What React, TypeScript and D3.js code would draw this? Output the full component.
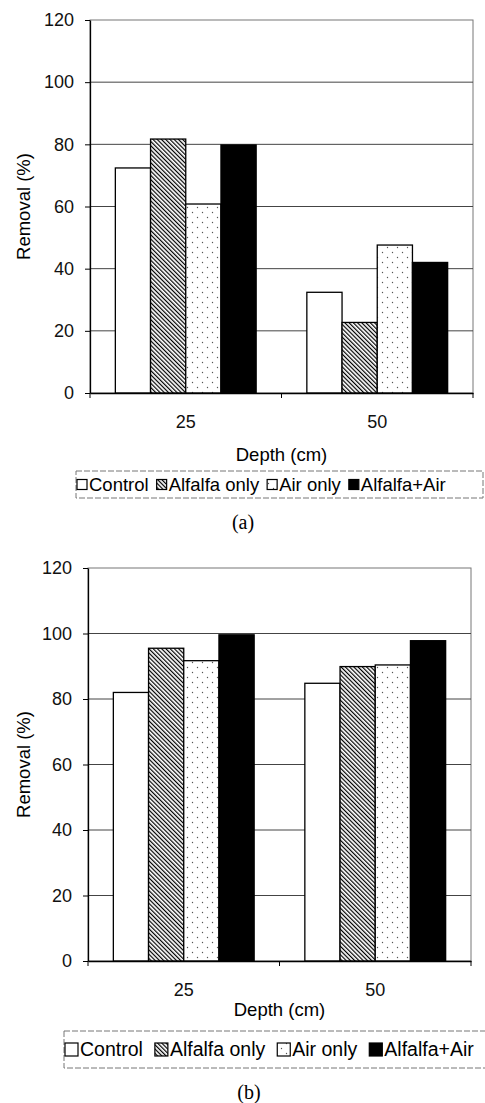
import React, { useEffect, useRef } from 'react';
import * as d3 from 'd3';

// categories and series
const depths = ['25', '50'];
const seriesNames = ['Control', 'Alfalfa only', 'Air only', 'Alfalfa+Air'];
const yTicks = [0, 20, 40, 60, 80, 100, 120];

// panel (a) values, % removal
const controlA = [72.4, 32.4];
const alfalfaA = [81.7, 22.7];
const airA = [60.8, 47.6];
const bothA = [79.8, 42.0];

// panel (b) values, % removal
const controlB = [82.0, 84.8];
const alfalfaB = [95.5, 89.9];
const airB = [91.7, 90.4];
const bothB = [99.6, 97.8];

const W = 485;
const H = 1103;
const FONT = "Arial, 'Liberation Sans', sans-serif";
const SERIF = "'Times New Roman', 'Liberation Serif', serif";
const TICK_FONT = 18;
const TITLE_FONT = 18.5;

const fills = ['#fff', 'url(#hatch)', 'url(#dots)', '#000'];

const panels = [
  {
    values: [controlA, alfalfaA, airA, bothA],
    left: 90, right: 473, top: 20, bottom: 393,
    xTitleY: 455,
    legend: { x: 76, y: 471, w: 407, h: 27, font: 18.5, marker: 10, gap: 8 },
    caption: '(a)', captionX: 243, captionY: 522,
  },
  {
    values: [controlB, alfalfaB, airB, bothB],
    left: 88, right: 471, top: 568, bottom: 961,
    xTitleY: 1010,
    legend: { x: 64, y: 1031, w: 430, h: 37, font: 19.5, marker: 13, gap: 12 },
    caption: '(b)', captionX: 249, captionY: 1092,
  },
];

const drawPanel = (svg, p) => {
  const y = d3.scaleLinear().domain([0, 120]).range([p.bottom, p.top]);
  const x0 = d3.scaleBand().domain(depths).range([p.left, p.right]);
  const x1 = d3.scaleBand()
    .domain(seriesNames)
    .range([0, x0.bandwidth()])
    .paddingOuter(0.72);

  const g = svg.append('g');

  // plot frame
  g.append('rect')
    .attr('x', p.left)
    .attr('y', p.top)
    .attr('width', p.right - p.left)
    .attr('height', p.bottom - p.top)
    .attr('fill', 'none')
    .attr('stroke', '#777')
    .attr('stroke-width', 1);

  // gridlines
  g.selectAll('.grid')
    .data(yTicks.filter((t) => t > 0 && t < 120))
    .join('line')
    .attr('class', 'grid')
    .attr('x1', p.left)
    .attr('x2', p.right)
    .attr('y1', (d) => y(d))
    .attr('y2', (d) => y(d))
    .attr('stroke', '#444')
    .attr('stroke-width', 1);

  // bars
  seriesNames.forEach((s, i) => {
    g.selectAll(null)
      .data(p.values[i])
      .join('rect')
      .attr('x', (d, j) => x0(depths[j]) + x1(s))
      .attr('y', (d) => y(d))
      .attr('width', x1.bandwidth())
      .attr('height', (d) => y(0) - y(d))
      .attr('fill', fills[i])
      .attr('stroke', '#000')
      .attr('stroke-width', 1.3);
  });

  // y axis
  const ya = g.append('g')
    .attr('transform', `translate(${p.left},0)`)
    .call(d3.axisLeft(y).tickValues(yTicks).tickSize(5).tickSizeOuter(0).tickPadding(11));
  ya.select('.domain').attr('stroke', '#000').attr('stroke-width', 1.3);
  ya.selectAll('text').attr('font-family', FONT).attr('font-size', TICK_FONT).attr('fill', '#111');

  // x axis: labels at band centres, ticks at band edges
  const xa = g.append('g')
    .attr('transform', `translate(0,${p.bottom})`)
    .call(d3.axisBottom(x0).tickSize(0).tickSizeOuter(0).tickPadding(22));
  xa.select('.domain').attr('stroke', '#000').attr('stroke-width', 1.3);
  xa.selectAll('text').attr('font-family', FONT).attr('font-size', TICK_FONT).attr('fill', '#111');
  g.selectAll('.xtick')
    .data([p.left, ...depths.slice(1).map((d) => x0(d)), p.right])
    .join('line')
    .attr('class', 'xtick')
    .attr('x1', (d) => d)
    .attr('x2', (d) => d)
    .attr('y1', p.bottom)
    .attr('y2', p.bottom + 5)
    .attr('stroke', '#000');

  // axis titles
  g.append('text')
    .attr('x', (p.left + p.right) / 2)
    .attr('y', p.xTitleY)
    .attr('dy', '0.35em')
    .attr('text-anchor', 'middle')
    .attr('font-family', FONT)
    .attr('font-size', TITLE_FONT)
    .text('Depth (cm)');

  g.append('text')
    .attr('transform', `translate(24,${(p.top + p.bottom) / 2}) rotate(-90)`)
    .attr('dy', '0.35em')
    .attr('text-anchor', 'middle')
    .attr('font-family', FONT)
    .attr('font-size', TITLE_FONT)
    .text('Removal (%)');

  // legend
  const L = p.legend;
  const lg = g.append('g').attr('transform', `translate(${L.x},${L.y})`);
  lg.append('rect')
    .attr('width', L.w)
    .attr('height', L.h)
    .attr('fill', '#fff')
    .attr('stroke', '#777')
    .attr('stroke-dasharray', '6 2');
  let cx = 1;
  seriesNames.forEach((s, i) => {
    lg.append('rect')
      .attr('x', cx)
      .attr('y', L.h / 2 - L.marker / 2)
      .attr('width', L.marker)
      .attr('height', L.marker)
      .attr('fill', fills[i])
      .attr('stroke', '#000')
      .attr('stroke-width', 1.2);
    const t = lg.append('text')
      .attr('x', cx + L.marker + 2)
      .attr('y', L.h / 2)
      .attr('dy', '0.35em')
      .attr('font-family', FONT)
      .attr('font-size', L.font)
      .text(s);
    const tw = t.node().getComputedTextLength();
    cx += L.marker + 2 + tw + L.gap;
  });

  // caption
  g.append('text')
    .attr('x', p.captionX)
    .attr('y', p.captionY)
    .attr('dy', '0.35em')
    .attr('text-anchor', 'middle')
    .attr('font-family', SERIF)
    .attr('font-size', 20)
    .text(p.caption);
};

const App = () => {
  const svgRef = useRef(null);

  useEffect(() => {
    const svg = d3.select(svgRef.current);
    svg.selectAll('*').remove();

    const defs = svg.append('defs');
    const hatch = defs.append('pattern')
      .attr('id', 'hatch')
      .attr('patternUnits', 'userSpaceOnUse')
      .attr('width', 3)
      .attr('height', 3)
      .attr('patternTransform', 'rotate(-45)');
    hatch.append('rect').attr('width', 3).attr('height', 3).attr('fill', '#fff');
    hatch.append('line')
      .attr('x1', 0.6).attr('y1', 0).attr('x2', 0.6).attr('y2', 3)
      .attr('stroke', '#000').attr('stroke-width', 1.2);

    const dots = defs.append('pattern')
      .attr('id', 'dots')
      .attr('patternUnits', 'userSpaceOnUse')
      .attr('width', 10)
      .attr('height', 10);
    dots.append('rect').attr('width', 10).attr('height', 10).attr('fill', '#fff');
    dots.append('circle').attr('cx', 2.5).attr('cy', 2.5).attr('r', 0.7).attr('fill', '#555');
    dots.append('circle').attr('cx', 7.5).attr('cy', 7.5).attr('r', 0.7).attr('fill', '#555');

    panels.forEach((p) => drawPanel(svg, p));
  }, []);

  return (
    <svg
      ref={svgRef}
      width={W}
      height={H}
      style={{ position: 'absolute', left: 0, top: 0, background: '#fff' }}
    ></svg>
  );
};

export default App;
